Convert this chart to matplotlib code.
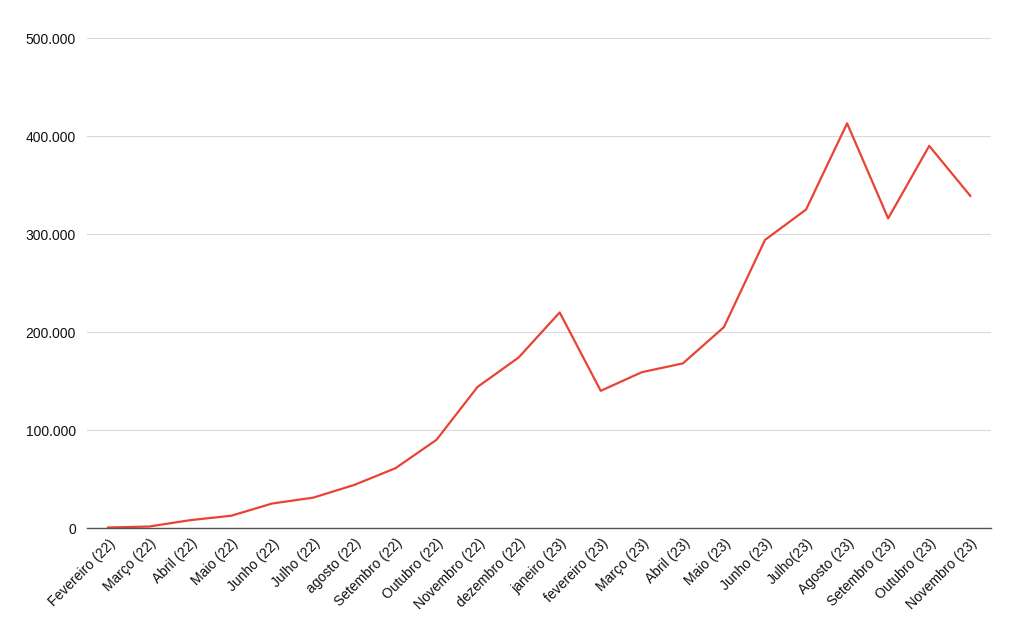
import numpy as np
import matplotlib.pyplot as plt
from matplotlib.ticker import FuncFormatter

plt.rcParams['font.family'] = ['Liberation Sans', 'DejaVu Sans']

months = ['Fevereiro (22)', 'Março (22)', 'Abril (22)', 'Maio (22)', 'Junho (22)',
          'Julho (22)', 'agosto (22)', 'Setembro (22)', 'Outubro (22)', 'Novembro (22)',
          'dezembro (22)', 'janeiro (23)', 'fevereiro (23)', 'Março (23)', 'Abril (23)',
          'Maio (23)', 'Junho (23)', 'Julho(23)', 'Agosto (23)', 'Setembro (23)',
          'Outubro (23)', 'Novembro (23)']
values = [500, 1500, 8000, 12500, 25000, 31000, 44000, 61000, 90000, 144000,
          174000, 220000, 140000, 159000, 168000, 205000, 294000, 325000,
          413000, 316000, 390000, 339000]

fig = plt.figure(figsize=(10.24, 6.35), dpi=100)
ax = fig.add_axes([0.085, 0.1685, 0.883, 0.7715])

x = np.arange(len(months))
ax.plot(x, values, color='#ea4335', linewidth=1.6)

ax.set_ylim(0, 500000)
ax.set_xlim(-0.51, len(months) - 0.49)
ax.set_yticks(np.arange(0, 500001, 100000))
ax.yaxis.set_major_formatter(FuncFormatter(lambda v, p: f'{int(v):,}'.replace(',', '.')))
ax.grid(axis='y', color='#d9d9d9', linewidth=0.8)
ax.set_axisbelow(True)

ax.set_xticks(x)
ax.set_xticklabels(months, rotation=45, ha='right', rotation_mode='anchor')
ax.tick_params(axis='both', length=0, labelsize=10, colors='#111111')
ax.tick_params(axis='y', pad=8)
ax.tick_params(axis='x', pad=6)

for s in ['top', 'right', 'left']:
    ax.spines[s].set_visible(False)
ax.spines['bottom'].set_color('#555555')
ax.spines['bottom'].set_linewidth(1)

fig.savefig('out.png', dpi=100)
